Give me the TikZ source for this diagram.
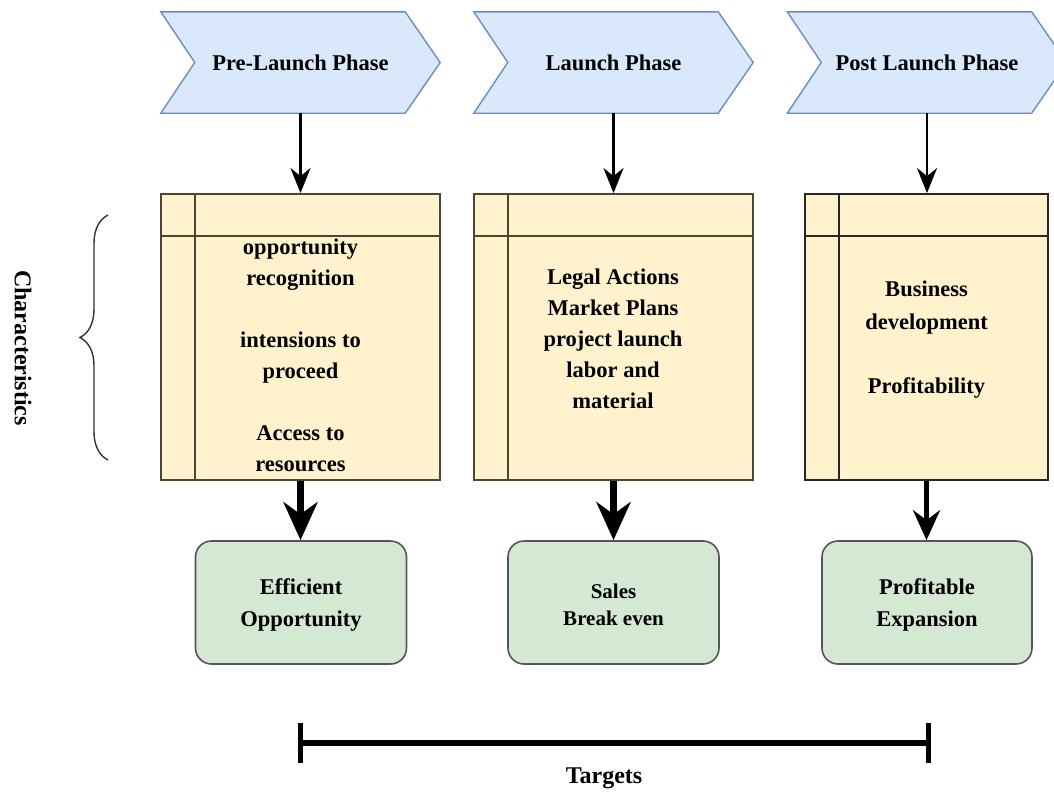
\documentclass[tikz,border=0pt]{standalone}
\usepackage{fontspec}
\setmainfont{Liberation Serif}
\usetikzlibrary{arrows.meta,calc,backgrounds,decorations.pathreplacing}

\definecolor{phasefill}{HTML}{DAE8FC}
\definecolor{phaseline}{HTML}{6C8EBF}
\definecolor{notefill}{HTML}{FFF2CC}
\definecolor{noteline}{HTML}{4A4636}
\definecolor{goalfill}{HTML}{D5E8D4}
\definecolor{goalline}{HTML}{555555}

\tikzset{
  lbl/.style={font=\fontsize{22.5}{31}\selectfont\bfseries, align=center, inner sep=0},
  phase/.style={rectangle, inner sep=0, minimum width=279, minimum height=101,
    font=\fontsize{22.5}{27}\selectfont\bfseries},
  chevron/.style={fill=phasefill, draw=phaseline, line width=1.4, line join=miter},
  notebox/.style={rectangle, draw=noteline, fill=notefill, line width=1.8,
    minimum height=286, inner sep=0},
  goal/.style={rectangle, rounded corners=16, draw=goalline, fill=goalfill,
    line width=1.6, minimum width=211, minimum height=123},
  goaltext/.style={align=center, inner sep=0, font=\fontsize{22.5}{32}\selectfont\bfseries},
  thinflow/.style={line width=2.6, -{Stealth[length=25, width=20, inset=8]}},
  thickflow/.style={line width=7, -{Stealth[length=38, width=34, inset=12]}},
}

\begin{document}
\begin{tikzpicture}[x=1pt, y=-1pt]
\useasboundingbox (0,0) rectangle (1054,793);
\clip (0,0) rectangle (1054,793);

% phase headers
\node[phase] (p1) at (300.5,62.5) {Pre-Launch Phase};
\node[phase] (p2) at (613.5,62.5) {Launch Phase};
\node[phase] (p3) at (927,62.5) {Post Launch Phase};

\begin{scope}[on background layer]
  \foreach \n in {p1,p2,p3}
    \draw[chevron] (\n.north west) -- ($(\n.north east)+(-35,0)$) -- (\n.east)
      -- ($(\n.south east)+(-35,0)$) -- (\n.south west) -- ($(\n.west)+(34,0)$) -- cycle;
\end{scope}

% characteristic boxes
\node[notebox, minimum width=279] (b1) at (300.5,337) {};
\node[notebox, minimum width=279] (b2) at (613.5,337) {};
\node[notebox, minimum width=243, draw=black!85] (b3) at (926.5,337) {};

\foreach \n/\c in {b1/noteline, b2/noteline, b3/black!85} {
  \draw[draw=\c, line width=1.8] ($(\n.north west)+(35,0)$) -- ($(\n.south west)+(35,0)$);
  \draw[draw=\c, line width=1.8] ($(\n.north west)+(0,43)$) -- ($(\n.north east)+(0,43)$);
}

\node[lbl] (t1) at (300.5,355) {opportunity\\recognition\\[31pt]intensions to\\proceed\\[31pt]Access to\\resources};
\node[lbl] (t2) at (613,339) {Legal Actions\\Market Plans\\project launch\\labor and\\material};
\node[lbl, font=\fontsize{22.5}{33}\selectfont\bfseries] (t3) at (926.5,340) {Business\\development\\[31pt]Profitability};

% targets
\node[goal] (g1) at (301,602.5) {};
\node[goal] (g2) at (613.5,602.5) {};
\node[goal, minimum width=210] (g3) at (927,602.5) {};
\node[goaltext] (g1t) at (301,605) {Efficient\\Opportunity};
\node[goaltext, font=\fontsize{21}{27}\selectfont\bfseries] (g2t) at (613.5,605) {Sales\\Break even};
\node[goaltext] (g3t) at (927,605) {Profitable\\Expansion};

% flows
\draw[thinflow] (p1.south) -- (b1.north);
\draw[thinflow] (p2.south) -- (b2.north);
\draw[thinflow] (p3.south) -- (p3.south |- b3.north);

\draw[thickflow] (b1.south) -- (b1.south |- g1.north);
\draw[thickflow] (b2.south) -- (b2.south |- g2.north);
\draw[line width=4.5, -{Stealth[length=30, width=27, inset=10]}] (b3.south) -- (b3.south |- g3.north);

% brace grouping the characteristics
\draw[black!80, line width=1.4, decorate, decoration={brace, amplitude=28}] (108,460) -- (108,215);
\node[font=\fontsize{24}{28}\selectfont\bfseries, rotate=-90] (chr) at (23,348) {Characteristics};

% span of the targets
\coordinate (tl) at (300,743);
\coordinate (tr) at (928,743);
\draw[line width=6] (tl) -- (tr);
\draw[line width=5] ($(tl)+(0,-20)$) -- ($(tl)+(0,20)$);
\draw[line width=5] ($(tr)+(0,-20)$) -- ($(tr)+(0,20)$);
\node[font=\fontsize{24}{28}\selectfont\bfseries] (tg) at (604,778) {Targets};

\end{tikzpicture}
\end{document}
